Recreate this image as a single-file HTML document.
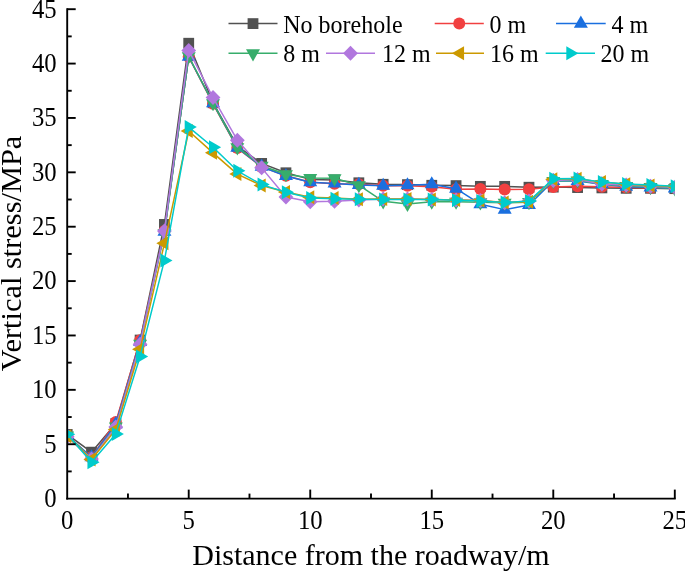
<!DOCTYPE html><html><head><meta charset="utf-8"><style>html,body{margin:0;padding:0;background:#fff;}svg{display:block;filter:blur(0.3px);}text{font-family:"Liberation Serif", serif;fill:#000;}</style></head><body>
<svg width="685" height="571" viewBox="0 0 685 571">
<rect width="685" height="571" fill="#fff"/>
<defs><clipPath id="c"><rect x="67.2" y="0" width="607.5999999999999" height="498.6"/></clipPath></defs>
<g clip-path="url(#c)">
<polyline points="67.20,434.43 91.50,452.16 115.81,423.56 140.11,340.03 164.42,224.43 188.72,43.24 213.02,102.73 237.33,146.23 261.63,163.42 285.94,172.77 310.24,179.40 334.54,179.95 358.85,182.77 383.15,184.30 407.46,184.62 431.76,185.28 456.06,185.60 480.37,186.36 504.67,186.36 528.98,187.23 553.28,187.12 577.58,187.56 601.89,187.89 626.19,188.32 650.50,188.32 674.80,188.65" fill="none" stroke="#515151" stroke-width="1.5" stroke-linejoin="round"/>
<rect x="61.80" y="429.03" width="10.8" height="10.8" fill="#515151"/>
<rect x="86.10" y="446.76" width="10.8" height="10.8" fill="#515151"/>
<rect x="110.41" y="418.16" width="10.8" height="10.8" fill="#515151"/>
<rect x="134.71" y="334.63" width="10.8" height="10.8" fill="#515151"/>
<rect x="159.02" y="219.03" width="10.8" height="10.8" fill="#515151"/>
<rect x="183.32" y="37.84" width="10.8" height="10.8" fill="#515151"/>
<rect x="207.62" y="97.33" width="10.8" height="10.8" fill="#515151"/>
<rect x="231.93" y="140.83" width="10.8" height="10.8" fill="#515151"/>
<rect x="256.23" y="158.02" width="10.8" height="10.8" fill="#515151"/>
<rect x="280.54" y="167.37" width="10.8" height="10.8" fill="#515151"/>
<rect x="304.84" y="174.00" width="10.8" height="10.8" fill="#515151"/>
<rect x="329.14" y="174.55" width="10.8" height="10.8" fill="#515151"/>
<rect x="353.45" y="177.37" width="10.8" height="10.8" fill="#515151"/>
<rect x="377.75" y="178.90" width="10.8" height="10.8" fill="#515151"/>
<rect x="402.06" y="179.22" width="10.8" height="10.8" fill="#515151"/>
<rect x="426.36" y="179.88" width="10.8" height="10.8" fill="#515151"/>
<rect x="450.66" y="180.20" width="10.8" height="10.8" fill="#515151"/>
<rect x="474.97" y="180.96" width="10.8" height="10.8" fill="#515151"/>
<rect x="499.27" y="180.96" width="10.8" height="10.8" fill="#515151"/>
<rect x="523.58" y="181.83" width="10.8" height="10.8" fill="#515151"/>
<rect x="547.88" y="181.72" width="10.8" height="10.8" fill="#515151"/>
<rect x="572.18" y="182.16" width="10.8" height="10.8" fill="#515151"/>
<rect x="596.49" y="182.49" width="10.8" height="10.8" fill="#515151"/>
<rect x="620.79" y="182.92" width="10.8" height="10.8" fill="#515151"/>
<rect x="645.10" y="182.92" width="10.8" height="10.8" fill="#515151"/>
<rect x="669.40" y="183.25" width="10.8" height="10.8" fill="#515151"/>
<polyline points="67.20,435.52 91.50,457.27 115.81,421.93 140.11,340.14 164.42,231.06 188.72,56.83 213.02,103.82 237.33,148.08 261.63,166.90 285.94,175.70 310.24,182.23 334.54,183.75 358.85,184.30 383.15,185.71 407.46,185.71 431.76,186.80 456.06,189.19 480.37,188.97 504.67,189.52 528.98,189.30 553.28,187.02 577.58,186.36 601.89,186.69 626.19,187.56 650.50,188.10 674.80,188.10" fill="none" stroke="#F14040" stroke-width="1.5" stroke-linejoin="round"/>
<circle cx="67.20" cy="435.52" r="6.0" fill="#F14040"/>
<circle cx="91.50" cy="457.27" r="6.0" fill="#F14040"/>
<circle cx="115.81" cy="421.93" r="6.0" fill="#F14040"/>
<circle cx="140.11" cy="340.14" r="6.0" fill="#F14040"/>
<circle cx="164.42" cy="231.06" r="6.0" fill="#F14040"/>
<circle cx="188.72" cy="56.83" r="6.0" fill="#F14040"/>
<circle cx="213.02" cy="103.82" r="6.0" fill="#F14040"/>
<circle cx="237.33" cy="148.08" r="6.0" fill="#F14040"/>
<circle cx="261.63" cy="166.90" r="6.0" fill="#F14040"/>
<circle cx="285.94" cy="175.70" r="6.0" fill="#F14040"/>
<circle cx="310.24" cy="182.23" r="6.0" fill="#F14040"/>
<circle cx="334.54" cy="183.75" r="6.0" fill="#F14040"/>
<circle cx="358.85" cy="184.30" r="6.0" fill="#F14040"/>
<circle cx="383.15" cy="185.71" r="6.0" fill="#F14040"/>
<circle cx="407.46" cy="185.71" r="6.0" fill="#F14040"/>
<circle cx="431.76" cy="186.80" r="6.0" fill="#F14040"/>
<circle cx="456.06" cy="189.19" r="6.0" fill="#F14040"/>
<circle cx="480.37" cy="188.97" r="6.0" fill="#F14040"/>
<circle cx="504.67" cy="189.52" r="6.0" fill="#F14040"/>
<circle cx="528.98" cy="189.30" r="6.0" fill="#F14040"/>
<circle cx="553.28" cy="187.02" r="6.0" fill="#F14040"/>
<circle cx="577.58" cy="186.36" r="6.0" fill="#F14040"/>
<circle cx="601.89" cy="186.69" r="6.0" fill="#F14040"/>
<circle cx="626.19" cy="187.56" r="6.0" fill="#F14040"/>
<circle cx="650.50" cy="188.10" r="6.0" fill="#F14040"/>
<circle cx="674.80" cy="188.10" r="6.0" fill="#F14040"/>
<polyline points="67.20,435.52 91.50,457.27 115.81,424.10 140.11,341.99 164.42,231.71 188.72,56.73 213.02,103.27 237.33,147.65 261.63,166.68 285.94,176.03 310.24,182.23 334.54,183.43 358.85,184.95 383.15,185.82 407.46,185.28 431.76,184.30 456.06,188.65 480.37,204.20 504.67,209.64 528.98,204.96 553.28,181.03 577.58,181.03 601.89,184.30 626.19,186.69 650.50,187.56 674.80,188.43" fill="none" stroke="#1A6FDF" stroke-width="1.5" stroke-linejoin="round"/>
<polygon points="67.20,427.44 74.20,439.56 60.20,439.56" fill="#1A6FDF"/>
<polygon points="91.50,449.19 98.50,461.31 84.50,461.31" fill="#1A6FDF"/>
<polygon points="115.81,416.02 122.81,428.14 108.81,428.14" fill="#1A6FDF"/>
<polygon points="140.11,333.91 147.11,346.03 133.11,346.03" fill="#1A6FDF"/>
<polygon points="164.42,223.63 171.42,235.76 157.42,235.76" fill="#1A6FDF"/>
<polygon points="188.72,48.64 195.72,60.77 181.72,60.77" fill="#1A6FDF"/>
<polygon points="213.02,95.19 220.02,107.32 206.02,107.32" fill="#1A6FDF"/>
<polygon points="237.33,139.56 244.33,151.69 230.33,151.69" fill="#1A6FDF"/>
<polygon points="261.63,158.60 268.63,170.72 254.63,170.72" fill="#1A6FDF"/>
<polygon points="285.94,167.95 292.94,180.07 278.94,180.07" fill="#1A6FDF"/>
<polygon points="310.24,174.15 317.24,186.27 303.24,186.27" fill="#1A6FDF"/>
<polygon points="334.54,175.34 341.54,187.47 327.54,187.47" fill="#1A6FDF"/>
<polygon points="358.85,176.87 365.85,188.99 351.85,188.99" fill="#1A6FDF"/>
<polygon points="383.15,177.74 390.15,189.86 376.15,189.86" fill="#1A6FDF"/>
<polygon points="407.46,177.19 414.46,189.32 400.46,189.32" fill="#1A6FDF"/>
<polygon points="431.76,176.21 438.76,188.34 424.76,188.34" fill="#1A6FDF"/>
<polygon points="456.06,180.56 463.06,192.69 449.06,192.69" fill="#1A6FDF"/>
<polygon points="480.37,196.12 487.37,208.24 473.37,208.24" fill="#1A6FDF"/>
<polygon points="504.67,201.55 511.67,213.68 497.67,213.68" fill="#1A6FDF"/>
<polygon points="528.98,196.88 535.98,209.00 521.98,209.00" fill="#1A6FDF"/>
<polygon points="553.28,172.95 560.28,185.08 546.28,185.08" fill="#1A6FDF"/>
<polygon points="577.58,172.95 584.58,185.08 570.58,185.08" fill="#1A6FDF"/>
<polygon points="601.89,176.21 608.89,188.34 594.89,188.34" fill="#1A6FDF"/>
<polygon points="626.19,178.61 633.19,190.73 619.19,190.73" fill="#1A6FDF"/>
<polygon points="650.50,179.48 657.50,191.60 643.50,191.60" fill="#1A6FDF"/>
<polygon points="674.80,180.35 681.80,192.47 667.80,192.47" fill="#1A6FDF"/>
<polyline points="67.20,435.52 91.50,458.36 115.81,426.50 140.11,343.73 164.42,233.24 188.72,56.29 213.02,103.27 237.33,147.32 261.63,165.81 285.94,174.18 310.24,177.99 334.54,178.31 358.85,185.17 383.15,201.37 407.46,203.98 431.76,201.70 456.06,201.70 480.37,202.35 504.67,202.78 528.98,202.13 553.28,181.03 577.58,180.49 601.89,183.97 626.19,185.93 650.50,187.12 674.80,188.32" fill="none" stroke="#37AD6B" stroke-width="1.5" stroke-linejoin="round"/>
<polygon points="67.20,443.60 74.20,431.48 60.20,431.48" fill="#37AD6B"/>
<polygon points="91.50,466.44 98.50,454.32 84.50,454.32" fill="#37AD6B"/>
<polygon points="115.81,434.58 122.81,422.45 108.81,422.45" fill="#37AD6B"/>
<polygon points="140.11,351.81 147.11,339.69 133.11,339.69" fill="#37AD6B"/>
<polygon points="164.42,241.32 171.42,229.19 157.42,229.19" fill="#37AD6B"/>
<polygon points="188.72,64.37 195.72,52.25 181.72,52.25" fill="#37AD6B"/>
<polygon points="213.02,111.36 220.02,99.23 206.02,99.23" fill="#37AD6B"/>
<polygon points="237.33,155.40 244.33,143.28 230.33,143.28" fill="#37AD6B"/>
<polygon points="261.63,173.89 268.63,161.77 254.63,161.77" fill="#37AD6B"/>
<polygon points="285.94,182.27 292.94,170.14 278.94,170.14" fill="#37AD6B"/>
<polygon points="310.24,186.07 317.24,173.95 303.24,173.95" fill="#37AD6B"/>
<polygon points="334.54,186.40 341.54,174.27 327.54,174.27" fill="#37AD6B"/>
<polygon points="358.85,193.25 365.85,181.13 351.85,181.13" fill="#37AD6B"/>
<polygon points="383.15,209.45 390.15,197.33 376.15,197.33" fill="#37AD6B"/>
<polygon points="407.46,212.06 414.46,199.94 400.46,199.94" fill="#37AD6B"/>
<polygon points="431.76,209.78 438.76,197.66 424.76,197.66" fill="#37AD6B"/>
<polygon points="456.06,209.78 463.06,197.66 449.06,197.66" fill="#37AD6B"/>
<polygon points="480.37,210.43 487.37,198.31 473.37,198.31" fill="#37AD6B"/>
<polygon points="504.67,210.87 511.67,198.74 497.67,198.74" fill="#37AD6B"/>
<polygon points="528.98,210.22 535.98,198.09 521.98,198.09" fill="#37AD6B"/>
<polygon points="553.28,189.12 560.28,176.99 546.28,176.99" fill="#37AD6B"/>
<polygon points="577.58,188.57 584.58,176.45 570.58,176.45" fill="#37AD6B"/>
<polygon points="601.89,192.05 608.89,179.93 594.89,179.93" fill="#37AD6B"/>
<polygon points="626.19,194.01 633.19,181.89 619.19,181.89" fill="#37AD6B"/>
<polygon points="650.50,195.21 657.50,183.08 643.50,183.08" fill="#37AD6B"/>
<polygon points="674.80,196.40 681.80,184.28 667.80,184.28" fill="#37AD6B"/>
<polyline points="67.20,436.83 91.50,458.90 115.81,427.04 140.11,344.28 164.42,231.06 188.72,50.42 213.02,97.51 237.33,140.14 261.63,167.87 285.94,197.02 310.24,201.70 334.54,201.15 358.85,199.96 383.15,198.98 407.46,198.98 431.76,199.52 456.06,200.07 480.37,200.61 504.67,202.78 528.98,201.04 553.28,180.49 577.58,179.62 601.89,183.97 626.19,185.06 650.50,186.25 674.80,187.34" fill="none" stroke="#B177DE" stroke-width="1.5" stroke-linejoin="round"/>
<polygon points="67.20,429.33 74.60,436.83 67.20,444.33 59.80,436.83" fill="#B177DE"/>
<polygon points="91.50,451.40 98.90,458.90 91.50,466.40 84.10,458.90" fill="#B177DE"/>
<polygon points="115.81,419.54 123.21,427.04 115.81,434.54 108.41,427.04" fill="#B177DE"/>
<polygon points="140.11,336.78 147.51,344.28 140.11,351.78 132.71,344.28" fill="#B177DE"/>
<polygon points="164.42,223.56 171.82,231.06 164.42,238.56 157.02,231.06" fill="#B177DE"/>
<polygon points="188.72,42.92 196.12,50.42 188.72,57.92 181.32,50.42" fill="#B177DE"/>
<polygon points="213.02,90.01 220.42,97.51 213.02,105.01 205.62,97.51" fill="#B177DE"/>
<polygon points="237.33,132.64 244.73,140.14 237.33,147.64 229.93,140.14" fill="#B177DE"/>
<polygon points="261.63,160.37 269.03,167.87 261.63,175.37 254.23,167.87" fill="#B177DE"/>
<polygon points="285.94,189.52 293.34,197.02 285.94,204.52 278.54,197.02" fill="#B177DE"/>
<polygon points="310.24,194.20 317.64,201.70 310.24,209.20 302.84,201.70" fill="#B177DE"/>
<polygon points="334.54,193.65 341.94,201.15 334.54,208.65 327.14,201.15" fill="#B177DE"/>
<polygon points="358.85,192.46 366.25,199.96 358.85,207.46 351.45,199.96" fill="#B177DE"/>
<polygon points="383.15,191.48 390.55,198.98 383.15,206.48 375.75,198.98" fill="#B177DE"/>
<polygon points="407.46,191.48 414.86,198.98 407.46,206.48 400.06,198.98" fill="#B177DE"/>
<polygon points="431.76,192.02 439.16,199.52 431.76,207.02 424.36,199.52" fill="#B177DE"/>
<polygon points="456.06,192.57 463.46,200.07 456.06,207.57 448.66,200.07" fill="#B177DE"/>
<polygon points="480.37,193.11 487.77,200.61 480.37,208.11 472.97,200.61" fill="#B177DE"/>
<polygon points="504.67,195.28 512.07,202.78 504.67,210.28 497.27,202.78" fill="#B177DE"/>
<polygon points="528.98,193.54 536.38,201.04 528.98,208.54 521.58,201.04" fill="#B177DE"/>
<polygon points="553.28,172.99 560.68,180.49 553.28,187.99 545.88,180.49" fill="#B177DE"/>
<polygon points="577.58,172.12 584.98,179.62 577.58,187.12 570.18,179.62" fill="#B177DE"/>
<polygon points="601.89,176.47 609.29,183.97 601.89,191.47 594.49,183.97" fill="#B177DE"/>
<polygon points="626.19,177.56 633.59,185.06 626.19,192.56 618.79,185.06" fill="#B177DE"/>
<polygon points="650.50,178.75 657.90,186.25 650.50,193.75 643.10,186.25" fill="#B177DE"/>
<polygon points="674.80,179.84 682.20,187.34 674.80,194.84 667.40,187.34" fill="#B177DE"/>
<polyline points="67.20,436.17 91.50,459.45 115.81,429.54 140.11,349.17 164.42,243.35 188.72,131.01 213.02,152.87 237.33,174.07 261.63,185.49 285.94,191.91 310.24,197.24 334.54,198.00 358.85,199.20 383.15,199.09 407.46,198.98 431.76,199.52 456.06,200.07 480.37,200.61 504.67,202.57 528.98,201.70 553.28,179.18 577.58,178.86 601.89,182.12 626.19,184.30 650.50,185.38 674.80,186.47" fill="none" stroke="#CC9900" stroke-width="1.5" stroke-linejoin="round"/>
<polygon points="59.12,436.17 71.24,429.17 71.24,443.17" fill="#CC9900"/>
<polygon points="83.42,459.45 95.55,452.45 95.55,466.45" fill="#CC9900"/>
<polygon points="107.73,429.54 119.85,422.54 119.85,436.54" fill="#CC9900"/>
<polygon points="132.03,349.17 144.15,342.17 144.15,356.17" fill="#CC9900"/>
<polygon points="156.33,243.35 168.46,236.35 168.46,250.35" fill="#CC9900"/>
<polygon points="180.64,131.01 192.76,124.01 192.76,138.01" fill="#CC9900"/>
<polygon points="204.94,152.87 217.07,145.87 217.07,159.87" fill="#CC9900"/>
<polygon points="229.25,174.07 241.37,167.07 241.37,181.07" fill="#CC9900"/>
<polygon points="253.55,185.49 265.67,178.49 265.67,192.49" fill="#CC9900"/>
<polygon points="277.85,191.91 289.98,184.91 289.98,198.91" fill="#CC9900"/>
<polygon points="302.16,197.24 314.28,190.24 314.28,204.24" fill="#CC9900"/>
<polygon points="326.46,198.00 338.59,191.00 338.59,205.00" fill="#CC9900"/>
<polygon points="350.77,199.20 362.89,192.20 362.89,206.20" fill="#CC9900"/>
<polygon points="375.07,199.09 387.19,192.09 387.19,206.09" fill="#CC9900"/>
<polygon points="399.37,198.98 411.50,191.98 411.50,205.98" fill="#CC9900"/>
<polygon points="423.68,199.52 435.80,192.52 435.80,206.52" fill="#CC9900"/>
<polygon points="447.98,200.07 460.11,193.07 460.11,207.07" fill="#CC9900"/>
<polygon points="472.29,200.61 484.41,193.61 484.41,207.61" fill="#CC9900"/>
<polygon points="496.59,202.57 508.71,195.57 508.71,209.57" fill="#CC9900"/>
<polygon points="520.89,201.70 533.02,194.70 533.02,208.70" fill="#CC9900"/>
<polygon points="545.20,179.18 557.32,172.18 557.32,186.18" fill="#CC9900"/>
<polygon points="569.50,178.86 581.63,171.86 581.63,185.86" fill="#CC9900"/>
<polygon points="593.81,182.12 605.93,175.12 605.93,189.12" fill="#CC9900"/>
<polygon points="618.11,184.30 630.23,177.30 630.23,191.30" fill="#CC9900"/>
<polygon points="642.41,185.38 654.54,178.38 654.54,192.38" fill="#CC9900"/>
<polygon points="666.72,186.47 678.84,179.47 678.84,193.47" fill="#CC9900"/>
<polyline points="67.20,434.22 91.50,462.28 115.81,434.11 140.11,356.46 164.42,260.43 188.72,127.09 213.02,147.21 237.33,170.81 261.63,184.62 285.94,192.24 310.24,198.00 334.54,198.76 358.85,199.20 383.15,199.41 407.46,199.41 431.76,199.41 456.06,200.17 480.37,200.94 504.67,202.57 528.98,201.04 553.28,178.86 577.58,178.42 601.89,182.12 626.19,184.08 650.50,185.06 674.80,186.25" fill="none" stroke="#00CBCC" stroke-width="1.5" stroke-linejoin="round"/>
<polygon points="75.28,434.22 63.16,427.22 63.16,441.22" fill="#00CBCC"/>
<polygon points="99.59,462.28 87.46,455.28 87.46,469.28" fill="#00CBCC"/>
<polygon points="123.89,434.11 111.77,427.11 111.77,441.11" fill="#00CBCC"/>
<polygon points="148.19,356.46 136.07,349.46 136.07,363.46" fill="#00CBCC"/>
<polygon points="172.50,260.43 160.37,253.43 160.37,267.43" fill="#00CBCC"/>
<polygon points="196.80,127.09 184.68,120.09 184.68,134.09" fill="#00CBCC"/>
<polygon points="221.11,147.21 208.98,140.21 208.98,154.21" fill="#00CBCC"/>
<polygon points="245.41,170.81 233.29,163.81 233.29,177.81" fill="#00CBCC"/>
<polygon points="269.71,184.62 257.59,177.62 257.59,191.62" fill="#00CBCC"/>
<polygon points="294.02,192.24 281.89,185.24 281.89,199.24" fill="#00CBCC"/>
<polygon points="318.32,198.00 306.20,191.00 306.20,205.00" fill="#00CBCC"/>
<polygon points="342.63,198.76 330.50,191.76 330.50,205.76" fill="#00CBCC"/>
<polygon points="366.93,199.20 354.81,192.20 354.81,206.20" fill="#00CBCC"/>
<polygon points="391.23,199.41 379.11,192.41 379.11,206.41" fill="#00CBCC"/>
<polygon points="415.54,199.41 403.41,192.41 403.41,206.41" fill="#00CBCC"/>
<polygon points="439.84,199.41 427.72,192.41 427.72,206.41" fill="#00CBCC"/>
<polygon points="464.15,200.17 452.02,193.17 452.02,207.17" fill="#00CBCC"/>
<polygon points="488.45,200.94 476.33,193.94 476.33,207.94" fill="#00CBCC"/>
<polygon points="512.75,202.57 500.63,195.57 500.63,209.57" fill="#00CBCC"/>
<polygon points="537.06,201.04 524.93,194.04 524.93,208.04" fill="#00CBCC"/>
<polygon points="561.36,178.86 549.24,171.86 549.24,185.86" fill="#00CBCC"/>
<polygon points="585.67,178.42 573.54,171.42 573.54,185.42" fill="#00CBCC"/>
<polygon points="609.97,182.12 597.85,175.12 597.85,189.12" fill="#00CBCC"/>
<polygon points="634.27,184.08 622.15,177.08 622.15,191.08" fill="#00CBCC"/>
<polygon points="658.58,185.06 646.45,178.06 646.45,192.06" fill="#00CBCC"/>
<polygon points="682.88,186.25 670.76,179.25 670.76,193.25" fill="#00CBCC"/>
</g>
<line x1="67.2" y1="8.2" x2="67.2" y2="499.55" stroke="#000" stroke-width="1.9"/>
<line x1="66.25" y1="498.6" x2="675.75" y2="498.6" stroke="#000" stroke-width="1.9"/>
<text transform="translate(56.6,506.90) scale(0.95,1.05)" font-size="26" text-anchor="end">0</text>
<line x1="67.2" y1="471.41" x2="71.7" y2="471.41" stroke="#000" stroke-width="1.9"/>
<line x1="67.2" y1="444.22" x2="75.7" y2="444.22" stroke="#000" stroke-width="1.9"/>
<text transform="translate(56.6,452.52) scale(0.95,1.05)" font-size="26" text-anchor="end">5</text>
<line x1="67.2" y1="417.03" x2="71.7" y2="417.03" stroke="#000" stroke-width="1.9"/>
<line x1="67.2" y1="389.84" x2="75.7" y2="389.84" stroke="#000" stroke-width="1.9"/>
<text transform="translate(56.6,398.14) scale(0.95,1.05)" font-size="26" text-anchor="end">10</text>
<line x1="67.2" y1="362.66" x2="71.7" y2="362.66" stroke="#000" stroke-width="1.9"/>
<line x1="67.2" y1="335.47" x2="75.7" y2="335.47" stroke="#000" stroke-width="1.9"/>
<text transform="translate(56.6,343.77) scale(0.95,1.05)" font-size="26" text-anchor="end">15</text>
<line x1="67.2" y1="308.28" x2="71.7" y2="308.28" stroke="#000" stroke-width="1.9"/>
<line x1="67.2" y1="281.09" x2="75.7" y2="281.09" stroke="#000" stroke-width="1.9"/>
<text transform="translate(56.6,289.39) scale(0.95,1.05)" font-size="26" text-anchor="end">20</text>
<line x1="67.2" y1="253.90" x2="71.7" y2="253.90" stroke="#000" stroke-width="1.9"/>
<line x1="67.2" y1="226.71" x2="75.7" y2="226.71" stroke="#000" stroke-width="1.9"/>
<text transform="translate(56.6,235.01) scale(0.95,1.05)" font-size="26" text-anchor="end">25</text>
<line x1="67.2" y1="199.52" x2="71.7" y2="199.52" stroke="#000" stroke-width="1.9"/>
<line x1="67.2" y1="172.33" x2="75.7" y2="172.33" stroke="#000" stroke-width="1.9"/>
<text transform="translate(56.6,180.63) scale(0.95,1.05)" font-size="26" text-anchor="end">30</text>
<line x1="67.2" y1="145.14" x2="71.7" y2="145.14" stroke="#000" stroke-width="1.9"/>
<line x1="67.2" y1="117.96" x2="75.7" y2="117.96" stroke="#000" stroke-width="1.9"/>
<text transform="translate(56.6,126.26) scale(0.95,1.05)" font-size="26" text-anchor="end">35</text>
<line x1="67.2" y1="90.77" x2="71.7" y2="90.77" stroke="#000" stroke-width="1.9"/>
<line x1="67.2" y1="63.58" x2="75.7" y2="63.58" stroke="#000" stroke-width="1.9"/>
<text transform="translate(56.6,71.88) scale(0.95,1.05)" font-size="26" text-anchor="end">40</text>
<line x1="67.2" y1="36.39" x2="71.7" y2="36.39" stroke="#000" stroke-width="1.9"/>
<line x1="67.2" y1="9.20" x2="75.7" y2="9.20" stroke="#000" stroke-width="1.9"/>
<text transform="translate(56.6,17.50) scale(0.95,1.05)" font-size="26" text-anchor="end">45</text>
<text transform="translate(67.20,529) scale(0.95,1.05)" font-size="26" text-anchor="middle">0</text>
<line x1="127.96" y1="498.6" x2="127.96" y2="493.6" stroke="#000" stroke-width="1.9"/>
<line x1="188.72" y1="498.6" x2="188.72" y2="489.6" stroke="#000" stroke-width="1.9"/>
<text transform="translate(188.72,529) scale(0.95,1.05)" font-size="26" text-anchor="middle">5</text>
<line x1="249.48" y1="498.6" x2="249.48" y2="493.6" stroke="#000" stroke-width="1.9"/>
<line x1="310.24" y1="498.6" x2="310.24" y2="489.6" stroke="#000" stroke-width="1.9"/>
<text transform="translate(310.24,529) scale(0.95,1.05)" font-size="26" text-anchor="middle">10</text>
<line x1="371.00" y1="498.6" x2="371.00" y2="493.6" stroke="#000" stroke-width="1.9"/>
<line x1="431.76" y1="498.6" x2="431.76" y2="489.6" stroke="#000" stroke-width="1.9"/>
<text transform="translate(431.76,529) scale(0.95,1.05)" font-size="26" text-anchor="middle">15</text>
<line x1="492.52" y1="498.6" x2="492.52" y2="493.6" stroke="#000" stroke-width="1.9"/>
<line x1="553.28" y1="498.6" x2="553.28" y2="489.6" stroke="#000" stroke-width="1.9"/>
<text transform="translate(553.28,529) scale(0.95,1.05)" font-size="26" text-anchor="middle">20</text>
<line x1="614.04" y1="498.6" x2="614.04" y2="493.6" stroke="#000" stroke-width="1.9"/>
<line x1="674.80" y1="498.6" x2="674.80" y2="489.6" stroke="#000" stroke-width="1.9"/>
<text transform="translate(674.80,529) scale(0.95,1.05)" font-size="26" text-anchor="middle">25</text>
<text x="371.00" y="565" font-size="30" text-anchor="middle">Distance from the roadway/m</text>
<text transform="translate(21.3,253.40) rotate(-90)" x="0" y="0" font-size="30.4" text-anchor="middle">Vertical stress/MPa</text>
<line x1="228.5" y1="23.6" x2="277.5" y2="23.6" stroke="#515151" stroke-width="1.5"/>
<rect x="247.60" y="18.20" width="10.8" height="10.8" fill="#515151"/>
<text transform="translate(283.3,32.50) scale(1,1.05)" font-size="24">No borehole</text>
<line x1="434.7" y1="23.6" x2="483.8" y2="23.6" stroke="#F14040" stroke-width="1.5"/>
<circle cx="459.25" cy="23.60" r="6.0" fill="#F14040"/>
<text transform="translate(489.6,32.50) scale(1,1.05)" font-size="24">0 m</text>
<line x1="556.0" y1="23.6" x2="605.7" y2="23.6" stroke="#1A6FDF" stroke-width="1.5"/>
<polygon points="580.85,15.52 587.85,27.64 573.85,27.64" fill="#1A6FDF"/>
<text transform="translate(611.5,32.50) scale(1,1.05)" font-size="24">4 m</text>
<line x1="228.5" y1="53.3" x2="277.5" y2="53.3" stroke="#37AD6B" stroke-width="1.5"/>
<polygon points="253.00,61.38 260.00,49.26 246.00,49.26" fill="#37AD6B"/>
<text transform="translate(283.3,62.20) scale(1,1.05)" font-size="24">8 m</text>
<line x1="326.0" y1="53.3" x2="375.0" y2="53.3" stroke="#B177DE" stroke-width="1.5"/>
<polygon points="350.50,45.80 357.90,53.30 350.50,60.80 343.10,53.30" fill="#B177DE"/>
<text transform="translate(382.0,62.20) scale(1,1.05)" font-size="24">12 m</text>
<line x1="436.0" y1="53.3" x2="484.0" y2="53.3" stroke="#CC9900" stroke-width="1.5"/>
<polygon points="451.92,53.30 464.04,46.30 464.04,60.30" fill="#CC9900"/>
<text transform="translate(490.0,62.20) scale(1,1.05)" font-size="24">16 m</text>
<line x1="545.7" y1="53.3" x2="595.0" y2="53.3" stroke="#00CBCC" stroke-width="1.5"/>
<polygon points="578.43,53.30 566.31,46.30 566.31,60.30" fill="#00CBCC"/>
<text transform="translate(600.5,62.20) scale(1,1.05)" font-size="24">20 m</text>
</svg></body></html>
